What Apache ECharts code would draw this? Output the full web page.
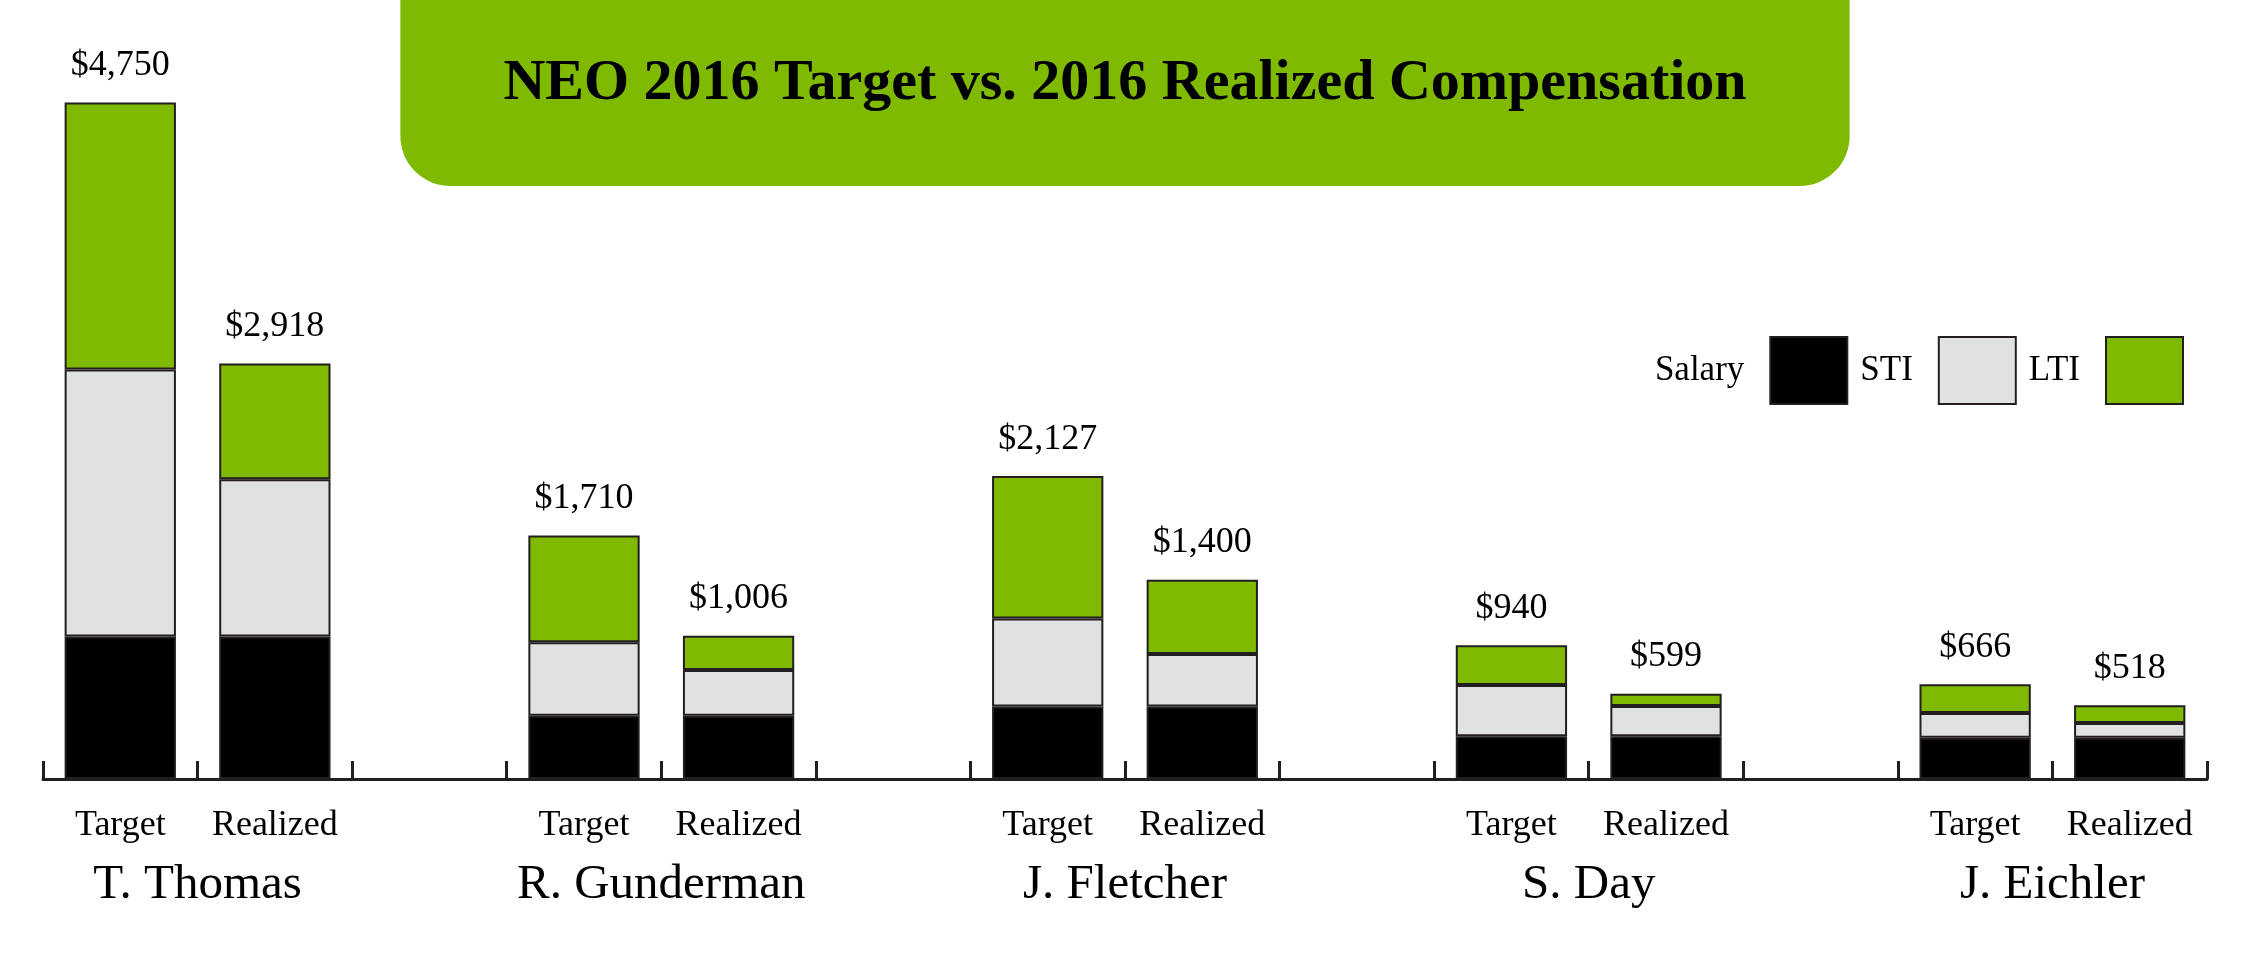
<!DOCTYPE html>
<html>
<head>
<meta charset="utf-8">
<title>NEO 2016 Target vs. 2016 Realized Compensation</title>
<script src="https://cdn.jsdelivr.net/npm/echarts@6/dist/echarts.min.js"></script>
<style>
  html, body { margin: 0; padding: 0; background: #fff; }
  #chart { width: 2250px; height: 956px; }
</style>
</head>
<body>
<div id="chart"></div>
<script>
// people and the two bars shown for each
const people = ['T. Thomas', 'R. Gunderman', 'J. Fletcher', 'S. Day', 'J. Eichler']
const barKinds = ['Target', 'Realized']

// values in $000, [target, realized] per person
const salary = [[1000, 1000], [445, 445], [510, 510], [300, 300], [290, 290]]
const sti = [[1875, 1105], [515, 320], [617, 367], [360, 212], [173, 103]]
const lti = [[1875, 813], [750, 241], [1000, 523], [280, 87], [203, 125]]
const totals = [[4750, 2918], [1710, 1006], [2127, 1400], [940, 599], [666, 518]]

const FONT = 'Liberation Serif'
const GREEN = '#7fba00'

// one empty slot between people
function flatten(rows, gap) {
  const out = []
  rows.forEach((r, i) => {
    r.forEach(v => out.push(v))
    if (i < rows.length - 1) out.push(gap)
  })
  return out
}

const categories = flatten(people.map(() => barKinds), '')
// names sit on the boundary between Target and Realized
const nameSlots = ['']
people.forEach((p, i) => {
  nameSlots.push(p)
  if (i < people.length - 1) nameSlots.push('', '')
})
nameSlots.push('')

const totalsFlat = flatten(totals, null)

function makeSeries(name, data, color, withLabel) {
  return {
    name: name,
    type: 'bar',
    stack: 'comp',
    barWidth: '72%',
    xAxisIndex: 0,
    itemStyle: { color: color, borderColor: '#231f20', borderWidth: 2 },
    label: withLabel ? {
      show: true,
      position: 'top',
      distance: 19,
      color: '#000',
      fontSize: 36,
      fontFamily: FONT,
      formatter: p => '$' + totalsFlat[p.dataIndex].toLocaleString('en-US')
    } : { show: false },
    data: flatten(data, '-')
  }
}

const chart = echarts.init(document.getElementById('chart'))
chart.setOption({
  animation: false,
  backgroundColor: '#fff',
  title: {
    text: 'NEO 2016 Target vs. 2016 Realized Compensation',
    left: 'center',
    top: 0,
    padding: [55, 103, 73, 103],
    backgroundColor: GREEN,
    borderRadius: [0, 0, 50, 50],
    textStyle: {
      color: '#000',
      fontFamily: FONT,
      fontWeight: 'bold',
      fontSize: 58,
      lineHeight: 58
    }
  },
  legend: {
    data: ['Salary', 'STI', 'LTI'],
    right: 61,
    top: 331,
    align: 'right',
    itemWidth: 77,
    itemHeight: 67,
    itemGap: 12,
    icon: 'rect',
    selectedMode: false,
    textStyle: {
      color: '#000',
      fontFamily: FONT,
      fontSize: 35,
      padding: [0, 21, 0, 0]
    }
  },
  grid: {
    left: 43,
    right: 43,
    top: 67,
    bottom: 177
  },
  xAxis: [
    {
      type: 'category',
      position: 'bottom',
      data: categories,
      boundaryGap: true,
      axisLine: { show: true, lineStyle: { color: '#231f20', width: 3 } },
      axisTick: { show: true, inside: true, length: 18, interval: 0, lineStyle: { color: '#231f20', width: 3 } },
      axisLabel: { interval: 0, margin: 29, color: '#000', fontFamily: FONT, fontSize: 36 }
    },
    {
      type: 'category',
      position: 'bottom',
      data: nameSlots,
      boundaryGap: false,
      axisLine: { show: false },
      axisTick: { show: false },
      axisLabel: { interval: 0, margin: 82, color: '#000', fontFamily: FONT, fontSize: 49 }
    }
  ],
  yAxis: {
    type: 'value',
    min: 0,
    max: 5000,
    show: false,
    splitLine: { show: false }
  },
  series: [
    makeSeries('Salary', salary, '#000', false),
    makeSeries('STI', sti, '#e0e1e3', false),
    makeSeries('LTI', lti, GREEN, true)
  ]
})
</script>
</body>
</html>
